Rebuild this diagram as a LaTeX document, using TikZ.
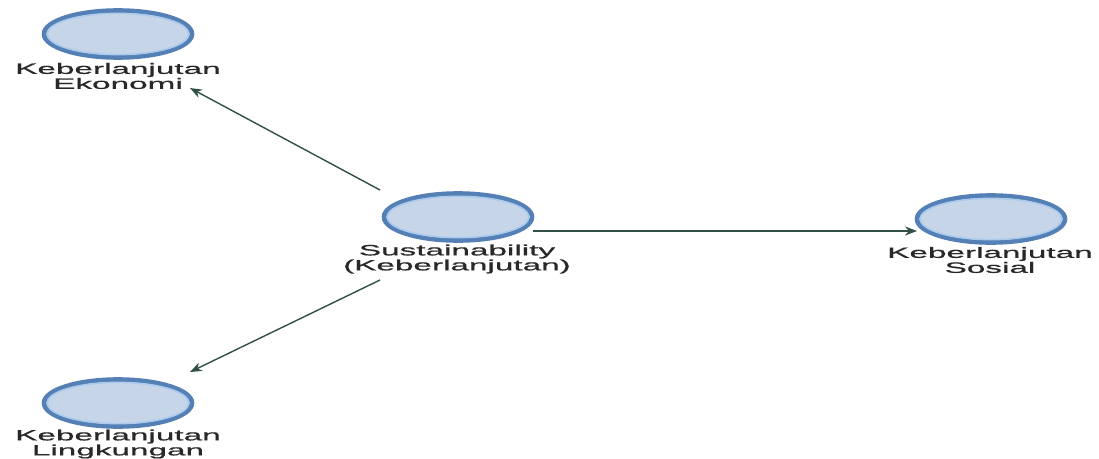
\documentclass[tikz,border=0pt]{standalone}
\usepackage{fontspec}
\newfontfamily\labfont{Liberation Sans}[FakeStretch=2.22,FakeBold=0.8]
\usetikzlibrary{arrows.meta,calc,shapes.geometric}
\definecolor{ellfill}{RGB}{199,213,232}
\definecolor{ellborder}{RGB}{84,128,182}
\definecolor{ellinner}{RGB}{170,202,238}
\definecolor{arrcol}{RGB}{48,80,70}
\definecolor{txtcol}{RGB}{40,40,40}
\begin{document}
\begin{tikzpicture}[x=1pt,y=-1pt,
  lv/.style={ellipse, minimum width=148pt, minimum height=47pt, fill=ellfill, draw=ellborder, line width=4.6pt, inner sep=0pt},
  lab/.style={align=center, text=txtcol, font=\labfont\fontsize{15}{13.5}\selectfont, inner sep=0pt},
  arr/.style={draw=arrcol, line width=1.4pt, -{Stealth[length=12pt,width=9pt]}}
]
\useasboundingbox[fill=white] (0,0) rectangle (1099,458);
\node[lv] (eko) at (118,34) {};
\node[lv] (sus) at (458,217) {};
\node[lv] (sos) at (991,219) {};
\node[lv] (lin) at (118,403) {};
\foreach \n in {eko,sus,sos,lin}{
  \draw[ellinner, line width=1.6pt] (\n.center) ellipse [x radius=70.8pt, y radius=20.6pt];
}
\node[lab] (ekolab) at (118,76) {Keberlanjutan\\Ekonomi};
\node[lab] (suslab) at (457,259) {Sustainability\\(Keberlanjutan)};
\node[lab] (soslab) at (990,260) {Keberlanjutan\\Sosial};
\node[lab] (linlab) at (118,444) {Keberlanjutan\\Lingkungan};
\draw[arr] ($(sus.center)+(-78,-27)$) -- ($(eko.center)+(72,54)$);
\draw[arr] ($(sus.center)+(75,14)$) -- ($(sos.center)+(-74,12)$);
\draw[arr] ($(sus.center)+(-78,63)$) -- ($(lin.center)+(72,-31)$);
\end{tikzpicture}
\end{document}
